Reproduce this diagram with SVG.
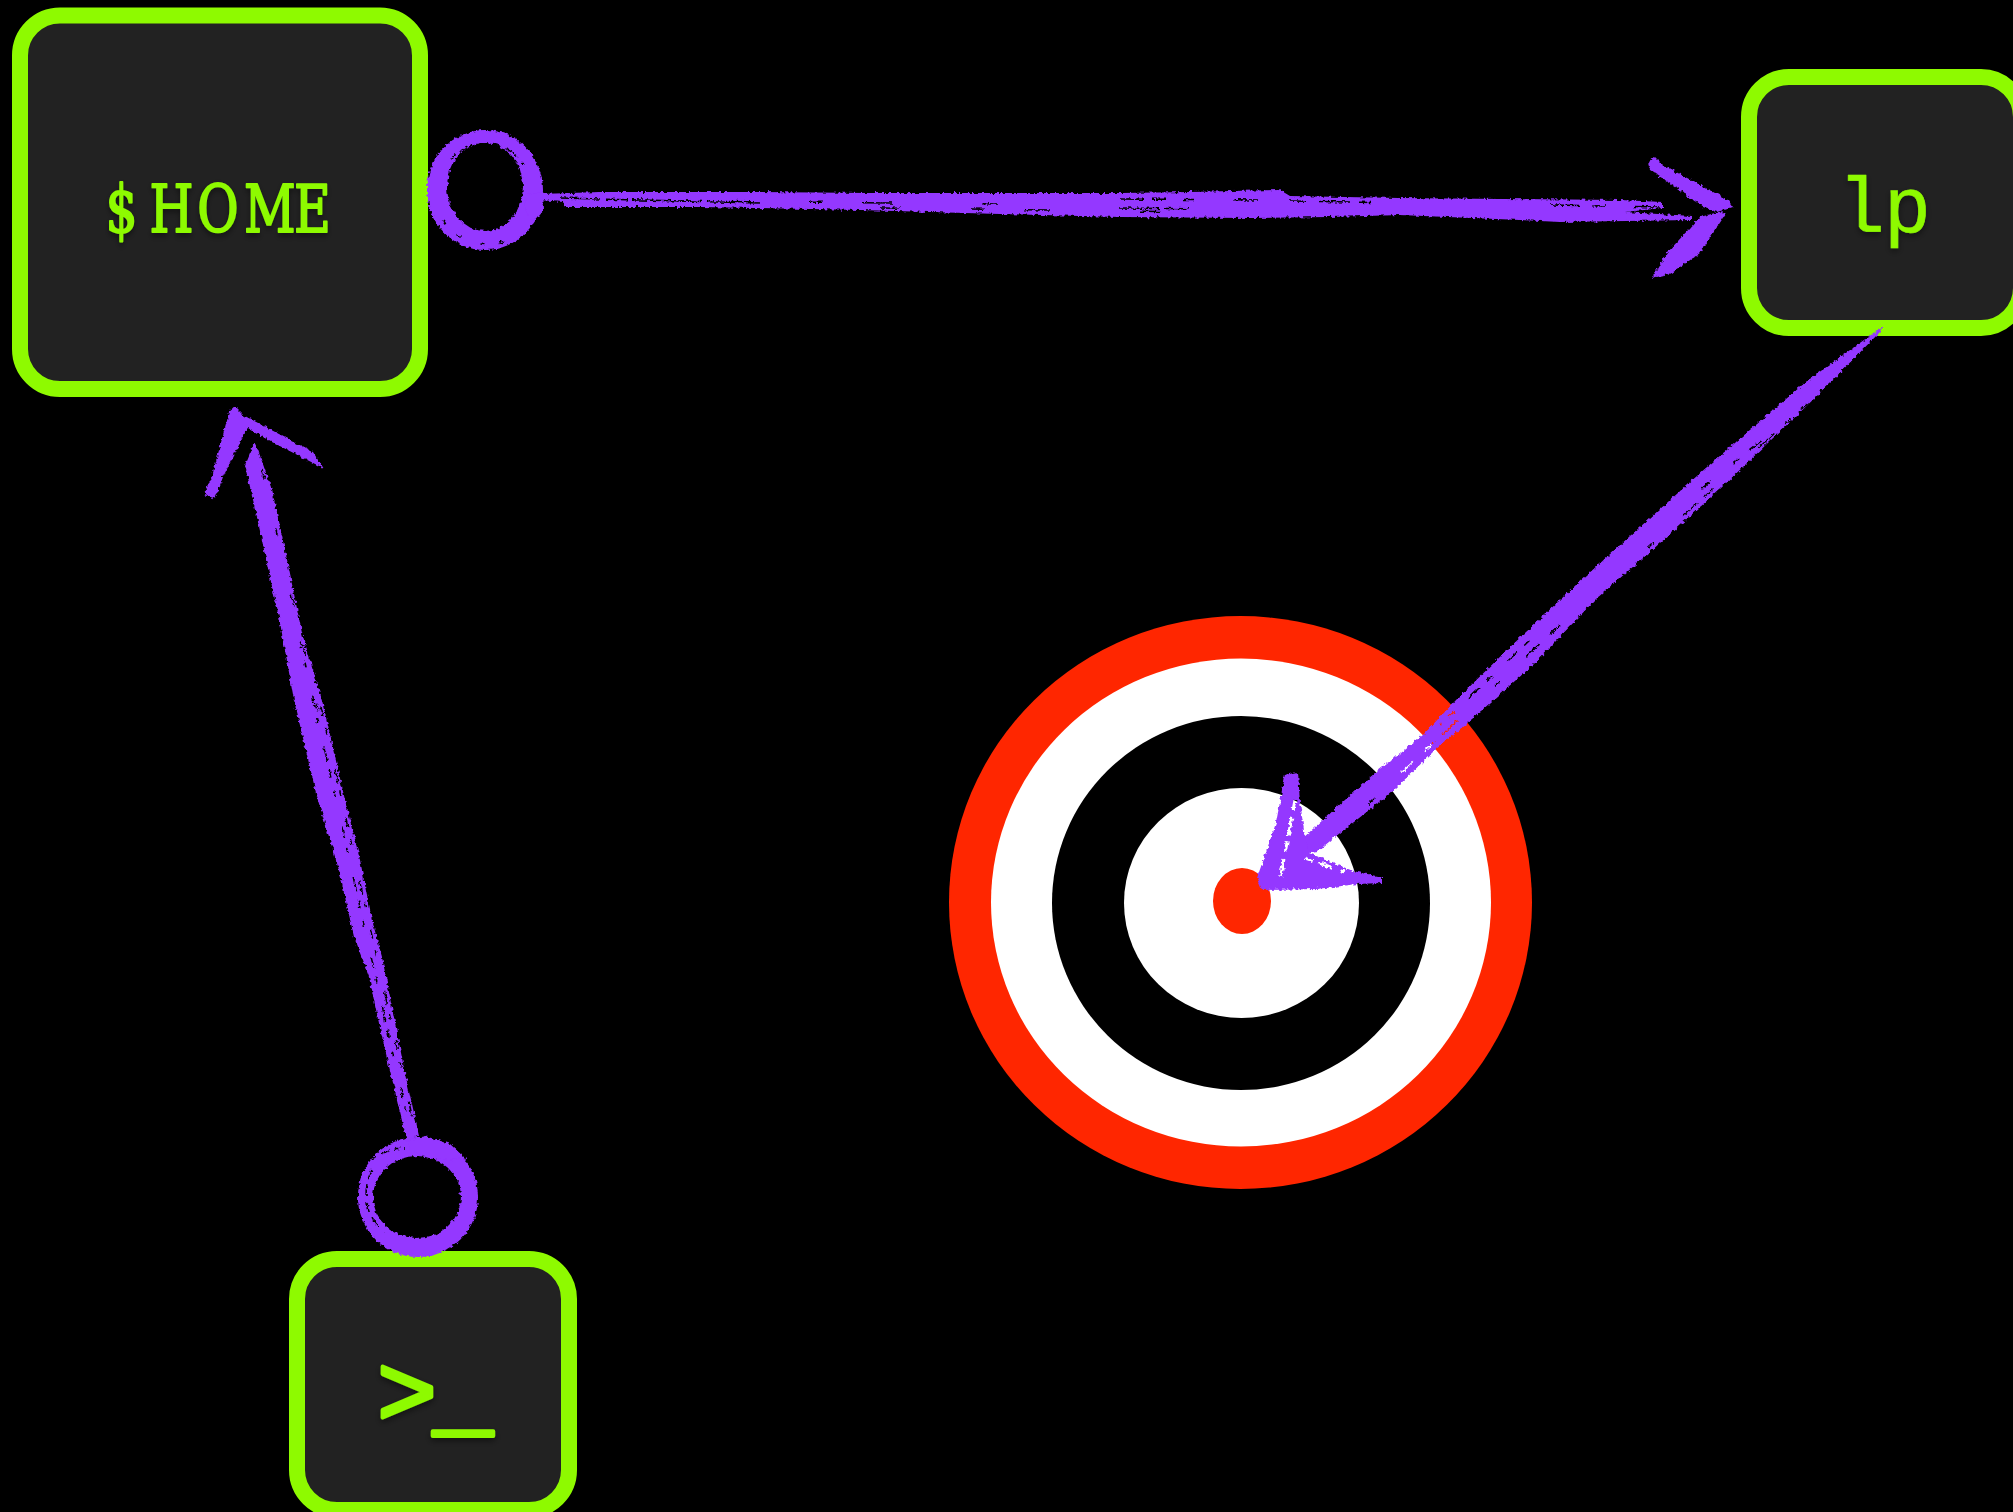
<svg xmlns="http://www.w3.org/2000/svg" width="2013" height="1512" viewBox="0 0 2013 1512">
  <style>
    .box { fill: #222222; stroke: #8EFA00; stroke-width: 16; }
    .label { font-family: "Liberation Mono", "Courier New", monospace; fill: #8EFA00; stroke: #8EFA00; stroke-width: 0.6; stroke-linejoin: round; font-size: 78px; filter: url(#shadow); }
    .ink { fill: #9437FF; stroke: none; }
    .gap { fill: none; stroke: #000; stroke-width: 1.5; }
  </style>
  <defs>
    <filter id="shadow" x="-20%" y="-30%" width="140%" height="170%">
      <feDropShadow dx="0" dy="3" stdDeviation="3" flood-color="#000" flood-opacity="0.45"/>
    </filter>
    <filter id="rough" filterUnits="userSpaceOnUse" x="0" y="0" width="2013" height="1512">
      <feTurbulence type="fractalNoise" baseFrequency="0.28" numOctaves="2" seed="7" result="n"/>
      <feDisplacementMap in="SourceGraphic" in2="n" scale="5" xChannelSelector="R" yChannelSelector="G"/>
    </filter>
    <mask id="gaps" maskUnits="userSpaceOnUse" x="0" y="0" width="2013" height="1512">
      <rect width="2013" height="1512" fill="#fff"/>
      <g class="gap" filter="url(#rough)">
        <path d="M560 198L760 203" stroke-dasharray="40 6 22 4 70 5 30 12 50 6"/>
        <path d="M680 201L1000 204" stroke-dasharray="16 30 24 60 12 40 30 90"/>
        <path d="M880 208L1200 212" stroke-dasharray="20 70 14 40 26 90"/>
        <path d="M1120 199L1260 200" stroke-dasharray="24 8 14 18 10 40"/>
        <path d="M1120 208L1200 209" stroke-dasharray="40 5 24 60"/>
        <path d="M1290 201L1400 203" stroke-dasharray="16 14 30 10 12 30"/>
        <path d="M1550 205L1660 207" stroke-dasharray="30 12 14 28"/>
        <path d="M262 470L330 760" stroke-dasharray="10 50 8 60 12 40"/>
        <path d="M300 640L410 1130" stroke-dasharray="8 14 6 30 12 10 5 24 16 8"/>
        <path d="M315 680L413 1120" stroke-dasharray="5 22 10 12 6 36 14 9"/>
        <path d="M1850 365L1640 555" stroke-dasharray="12 10 18 40 8 14 22 60"/>
        <path d="M1860 362L1700 490" stroke-dasharray="16 12 8 30 10 50"/>
        <path d="M1560 625L1340 830" stroke-dasharray="14 14 18 36 8 50 20 12"/>
        <path d="M1530 640L1440 725" stroke-dasharray="8 10 14 20"/>
        <path d="M1295 800L1280 880" stroke-dasharray="10 8 18 6" stroke-width="3"/>
        <path d="M1305 858L1345 872" stroke-dasharray="8 6 14 10" stroke-width="3"/>
        <path d="M450 160A46 46 0 0 1 524 165" stroke-dasharray="8 5 14 7 5 9"/>
        <path d="M443 220A52 52 0 0 0 520 233" stroke-dasharray="5 14 6 20"/>
        <path d="M372 1170A50 50 0 0 0 384 1232" stroke-dasharray="9 6 12 7"/>
        <path d="M372 1160A52 52 0 0 1 405 1148" stroke-dasharray="6 4 10 4"/>
      </g>
    </mask>
  </defs>

  <rect width="2013" height="1512" fill="#000"/>

  <g id="target">
    <ellipse cx="1240.5" cy="902.5" rx="291.5" ry="286.5" fill="#FF2600"/>
    <ellipse cx="1241" cy="902.5" rx="250" ry="244" fill="#fff"/>
    <ellipse cx="1241" cy="903" rx="189" ry="187" fill="#000"/>
    <ellipse cx="1241.5" cy="903" rx="117.5" ry="115" fill="#fff"/>
    <ellipse cx="1242" cy="901" rx="29" ry="33" fill="#FF2600"/>
  </g>

  <g id="node-home">
    <rect class="box" x="20" y="15.5" width="400" height="373.5" rx="40" ry="40"/>
    <text transform="translate(0 232) scale(.85 1)" x="124 176 232 287 346" y="0" style="font-family:'DejaVu Serif Condensed','DejaVu Serif',serif;font-size:66px;fill:#8EFA00;stroke:#8EFA00;stroke-width:1.8;stroke-linejoin:round;filter:url(#shadow)">$HOME</text>
  </g>
  <g id="node-lp">
    <rect class="box" x="1749" y="77" width="272" height="251" rx="40" ry="40"/>
    <text class="label" x="1838 1884" y="232">lp</text>
  </g>
  <g id="node-prompt">
    <rect class="box" x="297" y="1259" width="272" height="251" rx="40" ry="40"/>
    <text class="label" x="377 433" y="1425" style="font-size:100px;stroke-width:4">&gt;_</text>
  </g>

  <g id="connectors" mask="url(#gaps)">
    <g filter="url(#rough)">
      <g id="conn-home-lp">
        <path class="ink" fill-rule="evenodd" d="M427 190A58 60 0 1 0 543 190A58 60 0 1 0 427 190ZM447 187A38 44 0 1 0 523 187A38 44 0 1 0 447 187Z"/>
        <path class="ink" d="M525 195L543 192L544 210L534 222L526 212Z"/>
        <path class="ink" d="M540 194L600 192L753 192L870 193L1120 193L1190 192L1280 190L1290 196L1400 198L1620 200L1663 202L1663 208L1625 212L1692 216L1692 220L1560 222L1520 220L1400 215L1330 217L1250 218L1120 217L1000 214L860 210L700 207L565 207L563 202L540 200Z"/>
        <path class="ink" d="M1648 163L1655 157L1663 165L1728 200L1733 207L1717 212L1703 207L1677 188L1650 170Z"/>
        <path class="ink" d="M1727 212L1700 253L1672 273L1652 278L1667 253L1700 217L1715 213Z"/>
      </g>
      <g id="conn-prompt-home">
        <path class="ink" fill-rule="evenodd" d="M358 1197A60 60 0 1 0 478 1197A60 60 0 1 0 358 1197ZM373 1197A44 41 0 1 0 461 1197A44 41 0 1 0 373 1197Z"/>
        <path class="ink" d="M408 1140L425 1136L450 1144L465 1158L440 1160L425 1157L410 1150Z"/>
        <path class="ink" d="M254 443L245 465L257 517L269 573L279 617L294 700L317 797L339 870L354 937L369 977L382 1037L394 1087L407 1142L419 1135L405 1073L382 957L372 920L360 860L345 800L322 700L302 633L285 550L272 490L258 450Z"/>
        <path class="ink" d="M229 412L235 407L243 415L245 433L223 477L215 499L204 495L213 473Z"/>
        <path class="ink" d="M243 415L313 452L323 468L268 440L248 428L243 432Z"/>
      </g>
      <g id="conn-lp-target">
        <path class="ink" d="M1882 327L1807 381L1707 467L1640 527L1577 584L1507 650L1457 699L1423 735L1377 771L1303 838L1302 853L1318 851L1335 837L1392 792L1435 750L1472 719L1533 665L1596 599L1650 552L1720 489L1819 394L1882 330Z"/>
        <path class="ink" d="M1285 775L1298 772L1300 803L1305 837L1309 853L1353 871L1382 877L1382 883L1357 884L1317 889L1262 890L1257 878L1276 823Z"/>
      </g>
    </g>
  </g>
</svg>
